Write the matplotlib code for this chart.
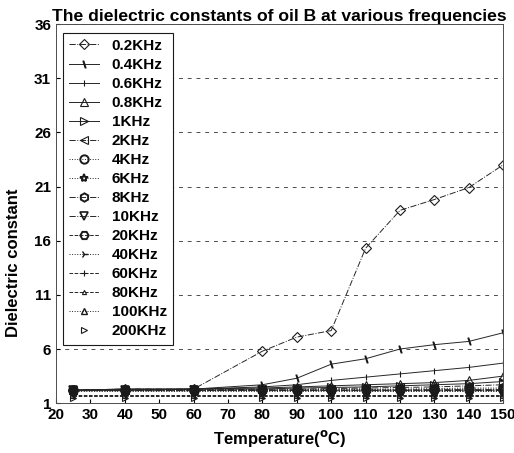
import matplotlib
matplotlib.use("Agg")
import matplotlib.pyplot as plt

plt.rcParams["font.family"] = ["Liberation Sans", "DejaVu Sans"]
plt.rcParams["font.weight"] = "bold"
plt.rcParams["mathtext.default"] = "bf"

temperatures = [25, 40, 60, 80, 90, 100, 110, 120, 130, 140, 150]

labels = ["0.2KHz", "0.4KHz", "0.6KHz", "0.8KHz", "1KHz", "2KHz", "4KHz", "6KHz",
          "8KHz", "10KHz", "20KHz", "40KHz", "60KHz", "80KHz", "100KHz", "200KHz"]

f_02k = [2.2, 2.3, 2.3, 5.8, 7.1, 7.7, 15.3, 18.8, 19.8, 20.9, 23.0]
f_04k = [2.2, 2.3, 2.3, 2.7, 3.3, 4.6, 5.1, 6.0, 6.4, 6.7, 7.5]
f_06k = [2.2, 2.3, 2.3, 2.5, 2.7, 3.1, 3.4, 3.7, 4.0, 4.3, 4.7]
f_08k = [2.2, 2.2, 2.3, 2.4, 2.5, 2.6, 2.7, 2.8, 2.9, 3.1, 3.5]
f_1k = [2.2, 2.2, 2.3, 2.3, 2.4, 2.45, 2.5, 2.6, 2.7, 2.8, 3.0]
f_2k = [2.2, 2.2, 2.2, 2.3, 2.3, 2.35, 2.4, 2.45, 2.5, 2.6, 2.7]
f_4k = [2.2, 2.2, 2.2, 2.2, 2.25, 2.3, 2.3, 2.3, 2.35, 2.4, 2.4]
f_6k = [2.2, 2.2, 2.2, 2.2, 2.2, 2.25, 2.25, 2.25, 2.3, 2.3, 2.3]
f_8k = [2.2, 2.2, 2.2, 2.2, 2.2, 2.2, 2.2, 2.2, 2.25, 2.25, 2.25]
f_10k = [2.2, 2.2, 2.2, 2.2, 2.2, 2.2, 2.2, 2.2, 2.2, 2.2, 2.2]
f_20k = [2.15, 2.15, 2.15, 2.2, 2.2, 2.2, 2.2, 2.2, 2.2, 2.2, 2.2]
f_40k = [2.15, 2.15, 2.15, 2.15, 2.15, 2.15, 2.15, 2.15, 2.15, 2.15, 2.15]
f_60k = [1.75, 1.75, 1.75, 1.75, 1.75, 1.75, 1.75, 1.75, 1.75, 1.75, 1.75]
f_80k = [1.7, 1.7, 1.7, 1.7, 1.7, 1.7, 1.7, 1.7, 1.7, 1.7, 1.7]
f_100k = [2.15, 2.15, 2.15, 2.15, 2.15, 2.15, 2.1, 2.1, 2.1, 2.1, 2.1]
f_200k = [1.5, 1.5, 1.5, 1.5, 1.5, 1.5, 1.5, 1.5, 1.5, 1.5, 1.5]

series = [f_02k, f_04k, f_06k, f_08k, f_1k, f_2k, f_4k, f_6k,
          f_8k, f_10k, f_20k, f_40k, f_60k, f_80k, f_100k, f_200k]

# marker, linestyle, markersize, marker edge width
styles = [
    ("D", "-.", 5, 0.8),
    ("$\\backslash$", "-", 5, 0.8),
    ("|", "-", 5, 0.8),
    ("^", "-", 6, 0.8),
    (">", "-", 6, 0.8),
    ("<", "-.", 6, 0.8),
    ("o", ":", 6, 1.4),
    ("*", ":", 6, 1.4),
    ("h", "-.", 6, 1.4),
    ("v", "-.", 6, 1.2),
    ("H", "--", 6, 1.4),
    ("4", ":", 6, 1.0),
    ("+", "--", 4, 0.8),
    ("^", "--", 3, 0.8),
    ("^", ":", 5, 1.0),
    (">", "None", 5, 0.8),
]

fig, ax = plt.subplots(figsize=(5.14, 4.53), dpi=100)
fig.subplots_adjust(left=0.109, right=0.979, top=0.947, bottom=0.110)

for values, label, (marker, ls, ms, mew) in zip(series, labels, styles):
    ax.plot(temperatures, values, linestyle=ls, marker=marker, markersize=ms,
            color="0.15", markerfacecolor="none", markeredgecolor="0.1",
            linewidth=0.7, markeredgewidth=mew, label=label)

ax.set_xlim(20, 150)
ax.set_ylim(1, 36)
ax.set_xticks(range(20, 151, 10))
ax.set_yticks(range(1, 37, 5))
ax.tick_params(direction="in", labelsize=11, length=3)
for t in ax.get_xticklabels() + ax.get_yticklabels():
    t.set_fontweight("bold")
ax.yaxis.grid(True, linestyle=(0, (4, 5)), color="0.3", linewidth=0.7)
for spine in ax.spines.values():
    spine.set_linewidth(0.7)
    spine.set_color("0.3")

ax.set_title("The dielectric constants of oil B at various frequencies",
             fontsize=12.6, fontweight="bold", pad=1)
ax.set_xlabel("Temperature($^{\\mathbf{o}}$C)", fontsize=12, fontweight="bold", labelpad=4)
ax.set_ylabel("Dielectric constant", fontsize=12, fontweight="bold")
ax.yaxis.set_label_coords(-0.078, 0.37)

leg = ax.legend(loc="upper left", bbox_to_anchor=(0.015, 0.977), borderaxespad=0,
                frameon=True, fancybox=False, edgecolor="0.1",
                labelspacing=0.33, handlelength=2.0, handletextpad=0.8,
                borderpad=0.4, prop={"weight": "bold", "size": 11})
leg.get_frame().set_linewidth(0.8)
leg.get_frame().set_alpha(1)

fig.savefig("out.png", dpi=100)
